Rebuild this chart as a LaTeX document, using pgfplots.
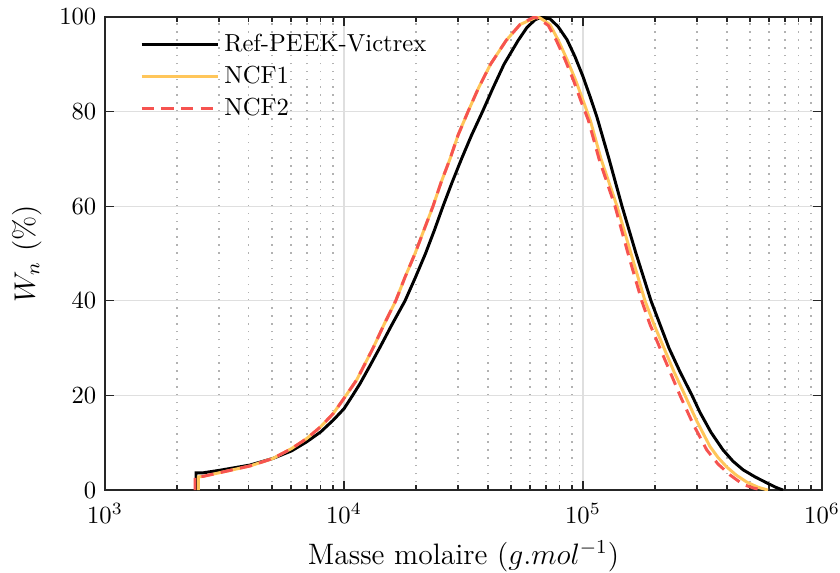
\documentclass[border=0pt]{standalone}
\usepackage{pgfplots}
\pgfplotsset{compat=1.18}
\definecolor{cyel}{RGB}{255,198,90}
\definecolor{cred}{RGB}{246,83,80}
\definecolor{axgray}{RGB}{38,38,38}
\begin{document}
\begin{tikzpicture}
\begin{axis}[
  scale only axis, width=291pt, height=192pt,
  xmode=log, xmin=1e3, xmax=1e6, ymin=0, ymax=100,
  ytick={0,20,40,60,80,100},
  xtick={1e3,1e4,1e5,1e6},
  xmajorgrids, ymajorgrids, xminorgrids,
  major grid style={gray!25, line width=0.5pt},
  minor grid style={gray!60, line width=0.5pt, dash pattern=on 0.6pt off 2.6pt},
  tick align=inside, tick pos=both,
  axis line style={axgray, line width=0.5pt},
  every tick/.style={axgray, line width=0.5pt},
  major tick length=3.5pt, minor tick length=2pt,
  xticklabel style={yshift=-2pt},
  xlabel={Masse molaire ($g.mol^{-1}$)},
  ylabel={$W_n$ (\%)},
  label style={font=\fontsize{12}{14}\selectfont},
  legend style={draw=none, fill=none, at={(0.038,0.985)}, anchor=north west, row sep=0.3pt, font=\normalsize},
  legend cell align=left,
  legend image code/.code={\draw[#1] plot coordinates {(0pt,0pt) (31pt,0pt)};},
]
\addplot[black, line width=1.2pt] coordinates {
(2403,0) (2403,3.66) (2578,3.66) (3028,4.2) (4044,5.3) (5046,6.7) (6041,8.3)
(6982,10.2) (7990,12.3) (9022,14.8) (10000,17.2) (10801,19.8) (11668,22.5)
(12847,26.3) (14148,30.2) (15880,35) (18001,40) (19916,45) (21928,50)
(23915,55) (25956,60) (28308,65) (31015,70) (34162,75) (37982,80) (42017,85)
(46714,90) (53467,95) (58305,97.8) (62971,99.4) (67172,100) (72760,99.6)
(78592,98) (85735,95.2) (92588,91.6) (100000,87.4) (106980,83.2) (114120,79)
(128480,70) (145620,60) (166650,50) (192550,40) (209980,35) (229030,30)
(254620,25) (285860,20) (308760,16.4) (343270,12.2) (385200,8.5) (424240,6.1)
(467100,4.3) (524300,2.8) (588700,1.5) (640000,0.6) (686700,0)
};
\addlegendentry{Ref-PEEK-Victrex}
\addplot[cyel, line width=1.2pt] coordinates {
(2458,0) (2458,2.8) (2571,2.9) (4044,5.1) (5046,6.7) (6041,8.8) (6982,10.9)
(7990,13.4) (9022,16.2) (10000,19.4) (11303,23.3) (13225,30) (14703,35)
(16458,40) (18001,45) (19822,50) (21614,55) (23570,60) (25462,65) (27768,70)
(29990,75) (33029,80) (36546,85) (41016,90) (47628,95) (54513,98.4)
(64017,100) (66080,99.8) (72760,98.4) (78971,95) (85735,91) (93035,86.7)
(100970,81.8) (107500,78) (118950,70) (138780,60) (158800,50) (181740,40)
(198220,35) (218240,30) (240300,25) (267220,20) (299900,14.5) (340000,9.2)
(367210,6.9) (399200,4.9) (436680,3.2) (484100,1.7) (540000,0.6) (594400,0)
};
\addlegendentry{NCF1}
\addplot[cred, line width=1.2pt, dash pattern=on 5pt off 3pt] coordinates {
(2380,0) (2380,2.8) (2571,2.9) (4044,5.1) (5046,6.7) (6041,8.8) (6982,10.9)
(7990,13.4) (9022,16.2) (10000,19.4) (11303,23.3) (13225,30) (14703,35)
(16458,40) (18001,45) (19822,50) (21614,55) (23570,60) (25462,65) (27768,70)
(29990,75) (33029,80) (36546,85) (41016,90) (47628,95) (54513,98.4)
(62370,100) (65015,99.7) (71582,98.2) (77613,94.9) (84070,91) (91083,86.7)
(98755,81.8) (105240,78.2) (116680,70) (136130,60) (154280,50) (176060,40)
(190700,35) (209980,30) (231250,25) (254620,20) (288590,14) (329310,8.5)
(367210,5.5) (412100,3.2) (467100,1.2) (520000,0.4) (566400,0)
};
\addlegendentry{NCF2}
\end{axis}
\pgfresetboundingbox
\useasboundingbox ([shift={(-42.6pt,-33.3pt)}]current axis.south west) rectangle ([shift={(7.3pt,6.9pt)}]current axis.north east);
\end{tikzpicture}
\end{document}
